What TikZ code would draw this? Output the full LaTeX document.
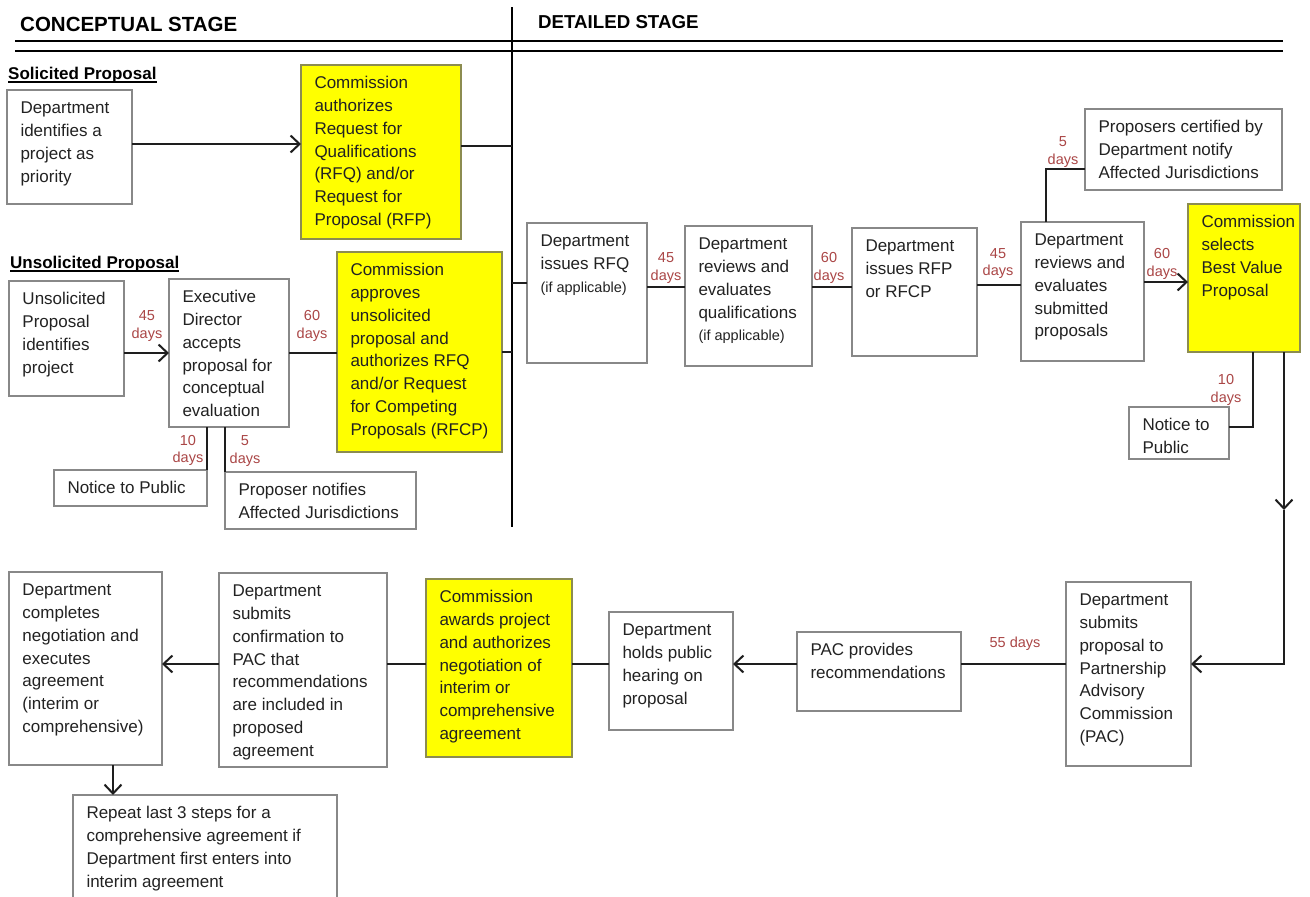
\documentclass[tikz,border=0pt]{standalone}
\usepackage{fontspec}
\setmainfont{Liberation Sans}
\usetikzlibrary{arrows.meta,calc}
\definecolor{boxgray}{RGB}{136,136,136}
\definecolor{ylw}{RGB}{255,255,0}
\definecolor{ybd}{RGB}{140,140,80}
\definecolor{lblred}{RGB}{170,70,70}
\definecolor{ink}{RGB}{34,34,34}
\definecolor{connc}{RGB}{30,30,30}
\tikzset{
  plainbox/.style={draw=boxgray, line width=1.3pt, fill=white, rectangle, inner sep=0pt, outer sep=0pt},
  yelbox/.style={draw=ybd, line width=1.3pt, fill=ylw, rectangle, inner sep=0pt, outer sep=0pt},
  txt/.style={inner sep=0pt, outer sep=0pt, align=left, text=ink, font=\fontsize{17}{22.8}\selectfont, anchor=north west},
  lbl/.style={inner sep=0pt, align=center, text=lblred, font=\fontsize{14.5}{17.5}\selectfont},
  conn/.style={draw=connc, line width=2pt},
  arr/.style={conn, -{Straight Barb[length=9pt,width=17pt,line width=2pt]}},
  stagehead/.style={inner sep=0pt, anchor=base west, text=black},
  subhead/.style={inner sep=0pt, anchor=base west, text=black, font=\bfseries\fontsize{17}{20}\selectfont},
  rule/.style={draw=black, line width=2pt}
}
\newcommand\bx[7]{%
  \node[#6, anchor=north west, minimum width={(#4-#2)*1pt}, minimum height={(#5-#3)*1pt}] (#1) at (#2,#3) {};
  \node[txt] (#1-t) at ([xshift=13.5pt,yshift=-11.1pt]#1.north west) {\rule{0pt}{12.6pt}#7};}
\newcommand\smalltxt[1]{{\fontsize{14.5}{17}\selectfont #1}}
\begin{document}
\begin{tikzpicture}[x=1pt,y=-1pt]
\useasboundingbox (0,0) rectangle (1310,897);
\fill[white] (0,0) rectangle (1310,897);
\clip (0,0) rectangle (1310,897);

% headers
\node[stagehead, font=\bfseries\fontsize{20.5}{24}\selectfont] (hc) at (20,31.7) {CONCEPTUAL STAGE};
\node[stagehead, font=\bfseries\fontsize{18.7}{22}\selectfont] (hd) at (538,28.4) {DETAILED STAGE};
\draw[rule] (15,40.7) -- (1283,40.7);
\draw[rule] (15,50.7) -- (1283,50.7);
\coordinate (dvT) at (512,7);
\coordinate (dvB) at (512,527);
\draw[rule] (dvT) -- (dvB);

\node[subhead] (hs) at (8,79) {Solicited Proposal};
\draw[line width=1.5pt] ([yshift=-2.8pt]hs.base west) -- ([yshift=-2.8pt]hs.base east);
\node[subhead] (hu) at (10,268) {Unsolicited Proposal};
\draw[line width=1.5pt] ([yshift=-2.8pt]hu.base west) -- ([yshift=-2.8pt]hu.base east);

% conceptual stage boxes
\bx{B1}{7}{90}{132}{204}{plainbox}{Department\\identifies a\\project as\\priority}
\bx{Y1}{301}{65}{461}{239}{yelbox}{Commission\\authorizes\\Request for\\Qualifications\\(RFQ) and/or\\Request for\\Proposal (RFP)}
\bx{B2}{9}{281}{124}{396}{plainbox}{Unsolicited\\Proposal\\identifies\\project}
\bx{B3}{169}{279}{289}{427}{plainbox}{Executive\\Director\\accepts\\proposal for\\conceptual\\evaluation}
\bx{Y2}{337}{252}{502}{452}{yelbox}{Commission\\approves\\unsolicited\\proposal and\\authorizes RFQ\\and/or Request\\for Competing\\Proposals (RFCP)}
\bx{N1}{54}{470}{207}{506}{plainbox}{Notice to Public}
\bx{P1}{225}{472}{416}{529}{plainbox}{Proposer notifies\\Affected Jurisdictions}

% detailed stage boxes
\bx{B4}{527}{223}{647}{363}{plainbox}{Department\\issues RFQ\\\smalltxt{(if applicable)}}
\bx{B5}{685}{226}{812}{366}{plainbox}{Department\\reviews and\\evaluates\\qualifications\\\smalltxt{(if applicable)}}
\bx{B6}{852}{228}{977}{356}{plainbox}{Department\\issues RFP\\or RFCP}
\bx{B7}{1021}{222}{1144}{361}{plainbox}{Department\\reviews and\\evaluates\\submitted\\proposals}
\bx{P2}{1085}{109}{1282}{190}{plainbox}{Proposers certified by\\Department notify\\Affected Jurisdictions}
\bx{Y3}{1188}{204}{1300}{352}{yelbox}{Commission\\selects\\Best Value\\Proposal}
\bx{N2}{1129}{407}{1229}{459}{plainbox}{Notice to\\Public}

% bottom row
\bx{B8}{1066}{582}{1191}{766}{plainbox}{Department\\submits\\proposal to\\Partnership\\Advisory\\Commission\\(PAC)}
\bx{PAC}{797}{632}{961}{711}{plainbox}{PAC provides\\recommendations}
\bx{H}{609}{612}{733}{730}{plainbox}{Department\\holds public\\hearing on\\proposal}
\bx{Y4}{426}{579}{572}{757}{yelbox}{Commission\\awards project\\and authorizes\\negotiation of\\interim or\\comprehensive\\agreement}
\bx{B9}{219}{573}{387}{767}{plainbox}{Department\\submits\\confirmation to\\PAC that\\recommendations\\are included in\\proposed\\agreement}
\bx{B10}{9}{572}{162}{765}{plainbox}{Department\\completes\\negotiation and\\executes\\agreement\\(interim or\\comprehensive)}
\bx{B11}{73}{795}{337}{905}{plainbox}{Repeat last 3 steps for a\\comprehensive agreement if\\Department first enters into\\interim agreement}

% connectors: conceptual
\draw[arr] (B1.east |- 0,144) -- (Y1.west |- 0,144);
\draw[conn] (Y1.east |- 0,146) -- (dvT |- 0,146);
\draw[arr] (B2.east |- 0,353) -- (B3.west |- 0,353);
\draw[conn] (B3.east |- 0,353) -- (Y2.west |- 0,353);
\draw[conn] (Y2.east |- 0,352) -- (dvT |- 0,352);
\draw[conn] (N1.north east |- B3.south) -- (N1.north east);
\draw[conn] (P1.north west |- B3.south) -- (P1.north west);

% connectors: detailed
\draw[conn] (dvT |- 0,283) -- (B4.west |- 0,283);
\draw[conn] (B4.east |- 0,287) -- (B5.west |- 0,287);
\draw[conn] (B5.east |- 0,287) -- (B6.west |- 0,287);
\draw[conn] (B6.east |- 0,285) -- (B7.west |- 0,285);
\draw[arr] (B7.east |- 0,282) -- (Y3.west |- 0,282);
\draw[conn] (B7.north -| 1046,0) |- (P2.west |- 0,169);
\draw[conn] (Y3.south -| 1253,0) |- (N2.east |- 0,427);
\coordinate (mid) at (1284,510);
\draw[arr] (Y3.south -| mid) -- (mid);
\draw[arr] (mid) |- (B8.east |- 0,664);

% connectors: bottom row
\draw[conn] (B8.west |- 0,664) -- (PAC.east |- 0,664);
\draw[arr] (PAC.west |- 0,664) -- (H.east |- 0,664);
\draw[conn] (H.west |- 0,664) -- (Y4.east |- 0,664);
\draw[conn] (Y4.west |- 0,664) -- (B9.east |- 0,664);
\draw[arr] (B9.west |- 0,664) -- (B10.east |- 0,664);
\draw[arr] (B10.south -| 113,0) -- (B11.north -| 113,0);

% day labels
\node[lbl] (l1) at (147,326) {45\\days};
\node[lbl] (l2) at (312,326) {60\\days};
\node[lbl] (l3) at (188,450.5) {10\\days};
\node[lbl] (l4) at (245,451) {5\\days};
\node[lbl] (l5) at (666,268) {45\\days};
\node[lbl] (l6) at (829,268) {60\\days};
\node[lbl] (l7) at (998,263.5) {45\\days};
\node[lbl] (l8) at (1063,152) {5\\days};
\node[lbl] (l9) at (1162,264) {60\\days};
\node[lbl] (l10) at (1226,390) {10\\days};
\node[lbl] (l11) at (1015,644) {55 days};
\end{tikzpicture}
\end{document}
